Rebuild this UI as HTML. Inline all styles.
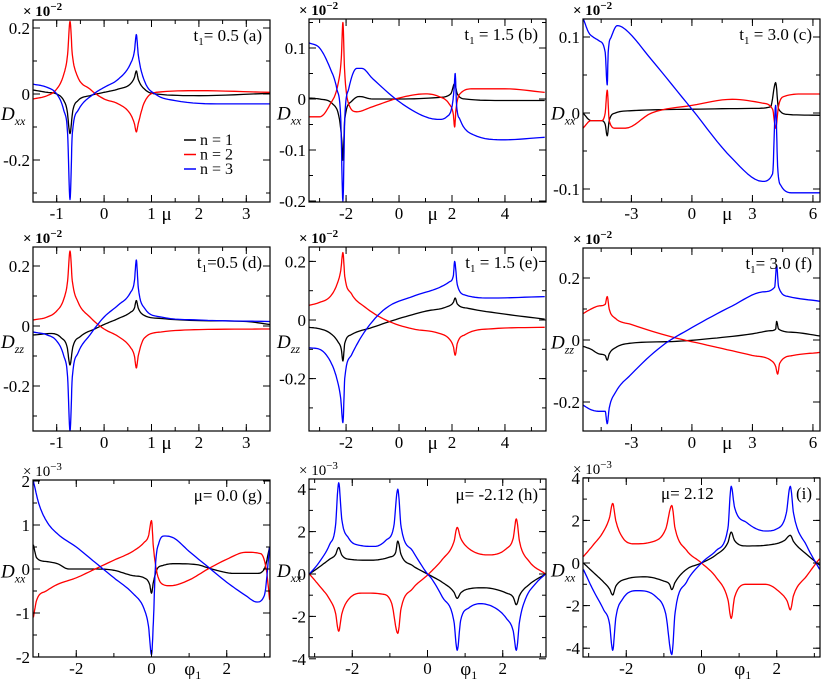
<!DOCTYPE html>
<html><head><meta charset="utf-8">
<style>
html,body{margin:0;padding:0;background:#fff;}
svg{display:block;font-family:"Liberation Serif","DejaVu Serif",serif;}
</style></head>
<body>
<svg id="fig" width="830" height="684" viewBox="0 0 830 684" xmlns="http://www.w3.org/2000/svg"></svg>
<script>
// ---- data (x, value) ----
const a_n1=[[-1.5,0.012],[-1.2,0.005],[-1,0],[-0.85,-0.02],[-0.78,-0.05],[-0.72,-0.12],[-0.66,-0.05],[-0.55,-0.02],[-0.3,-0.005],[0,0.005],[0.3,0.015],[0.55,0.03],[0.64,0.05],[0.68,0.07],[0.72,0.045],[0.85,0.015],[1.1,0],[2,-0.005],[3.5,0.002]];
const a_n2=[[-1.5,-0.015],[-1.2,-0.005],[-1,0.015],[-0.85,0.06],[-0.77,0.12],[-0.72,0.22],[-0.67,0.12],[-0.58,0.06],[-0.3,0.015],[0,-0.015],[0.3,-0.03],[0.55,-0.06],[0.64,-0.09],[0.68,-0.115],[0.72,-0.09],[0.85,-0.025],[1.1,0.005],[2,0.01],[3.5,0.005]];
const a_n3=[[-1.5,0.03],[-1.2,0.02],[-1,0],[-0.85,-0.05],[-0.77,-0.12],[-0.72,-0.32],[-0.67,-0.12],[-0.55,-0.05],[-0.2,0.002],[0,0.02],[0.3,0.045],[0.55,0.09],[0.64,0.13],[0.68,0.18],[0.72,0.12],[0.85,0.04],[1.1,-0.002],[1.5,-0.02],[2.5,-0.03],[3.5,-0.03]];
const b_n1=[[-3.4,0.002],[-3,0],[-2.5,-0.01],[-2.25,-0.04],[-2.15,-0.09],[-2.12,-0.12],[-2.05,-0.04],[-1.8,-0.005],[-1.5,0.005],[-1,0],[0,0],[1.5,0.003],[1.95,0.01],[2.1,0.03],[2.2,0.01],[2.5,0],[4,-0.003],[5.5,-0.003]];
const b_n2=[[-3.4,-0.035],[-3,-0.035],[-2.6,-0.01],[-2.3,0.03],[-2.18,0.08],[-2.12,0.15],[-2.06,0.06],[-1.9,-0.01],[-1.6,-0.025],[-1,-0.015],[0,0.002],[1,0.01],[1.5,0.005],[1.9,-0.01],[2.05,-0.03],[2.1,-0.055],[2.15,-0.02],[2.3,0.01],[2.8,0.02],[4,0.02],[5.5,0.013]];
const b_n3=[[-3.4,0.11],[-3,0.1],[-2.6,0.06],[-2.35,0.02],[-2.2,-0.04],[-2.12,-0.2],[-2.05,-0.04],[-1.9,0.02],[-1.6,0.06],[-1.4,0.06],[-1,0.04],[0,-0.005],[1,-0.035],[1.5,-0.04],[1.8,-0.035],[2.0,-0.015],[2.08,0.02],[2.12,0.05],[2.17,-0.01],[2.3,-0.04],[2.8,-0.07],[4,-0.08],[5.5,-0.075]];
const c_n1=[[-5.4,0],[-5,-0.01],[-4.5,-0.01],[-4.3,-0.015],[-4.2,-0.03],[-4.1,-0.01],[-3.8,0],[-3,0.003],[0,0.005],[3,0.006],[3.9,0.008],[4.15,0.04],[4.3,0.005],[4.8,-0.002],[6.35,-0.003]];
const c_n2=[[-5.4,-0.02],[-5,-0.01],[-4.8,-0.01],[-4.5,-0.01],[-4.3,0],[-4.2,0.03],[-4.1,-0.01],[-3.8,-0.02],[-3.3,-0.02],[-2,0],[0,0.01],[2,0.018],[3.5,0.013],[4,0.005],[4.15,-0.02],[4.3,0.01],[4.6,0.022],[5.5,0.025],[6.35,0.025]];
const c_n3=[[-5.4,0.125],[-5.1,0.105],[-4.9,0.1],[-4.6,0.095],[-4.3,0.08],[-4.2,0.037],[-4.15,0.08],[-4,0.1],[-3.7,0.115],[-3.3,0.11],[-2,0.07],[0,0.005],[2,-0.06],[3.5,-0.09],[4,-0.08],[4.15,0.01],[4.25,-0.07],[4.4,-0.095],[5,-0.105],[6.35,-0.105]];
const d_n1=[[-1.5,-0.03],[-1.1,-0.025],[-0.9,-0.04],[-0.78,-0.07],[-0.72,-0.13],[-0.66,-0.07],[-0.5,-0.035],[-0.2,-0.01],[0,0.005],[0.3,0.025],[0.55,0.045],[0.64,0.06],[0.68,0.085],[0.72,0.06],[0.85,0.035],[1.2,0.025],[2,0.018],[3,0.015],[3.5,0.005]];
const d_n2=[[-1.5,0.02],[-1.2,0.03],[-1,0.05],[-0.85,0.09],[-0.77,0.15],[-0.72,0.25],[-0.67,0.15],[-0.55,0.08],[-0.3,0.03],[0,-0.01],[0.3,-0.035],[0.55,-0.07],[0.64,-0.1],[0.68,-0.14],[0.72,-0.1],[0.85,-0.04],[1.2,-0.02],[2,-0.012],[3.5,-0.01]];
const d_n3=[[-1.5,-0.02],[-1.2,-0.03],[-1,-0.05],[-0.85,-0.1],[-0.77,-0.17],[-0.72,-0.35],[-0.67,-0.17],[-0.55,-0.09],[-0.3,-0.03],[0,0.03],[0.3,0.07],[0.55,0.11],[0.64,0.15],[0.68,0.22],[0.72,0.13],[0.85,0.06],[1.2,0.03],[2,0.02],[3.5,0.015]];
const e_n1=[[-3.4,-0.025],[-3,-0.03],[-2.6,-0.045],[-2.3,-0.075],[-2.18,-0.1],[-2.12,-0.14],[-2.05,-0.08],[-1.8,-0.05],[-1,-0.025],[0,0.005],[1,0.03],[1.8,0.045],[2.05,0.06],[2.12,0.075],[2.2,0.055],[2.6,0.04],[4,0.02],[5.5,0.003]];
const e_n2=[[-3.4,0.05],[-3,0.06],[-2.6,0.08],[-2.35,0.12],[-2.2,0.17],[-2.12,0.23],[-2.05,0.15],[-1.8,0.09],[-1.3,0.045],[-0.5,0],[0.5,-0.03],[1.5,-0.045],[1.9,-0.065],[2.05,-0.09],[2.12,-0.12],[2.2,-0.08],[2.5,-0.05],[3.5,-0.03],[5.5,-0.025]];
const e_n3=[[-3.4,-0.095],[-3,-0.1],[-2.6,-0.14],[-2.35,-0.2],[-2.2,-0.27],[-2.12,-0.35],[-2.05,-0.2],[-1.8,-0.12],[-1.3,-0.04],[-0.5,0.04],[0.5,0.08],[1.5,0.11],[1.9,0.13],[2.05,0.15],[2.1,0.2],[2.2,0.12],[2.5,0.085],[3.5,0.075],[5.5,0.08]];
const f_n1=[[-5.4,-0.02],[-5,-0.03],[-4.6,-0.045],[-4.3,-0.05],[-4.2,-0.065],[-4.1,-0.045],[-3.8,-0.025],[-3,-0.01],[-1,-0.005],[1,0.005],[3,0.02],[3.9,0.03],[4.15,0.035],[4.2,0.06],[4.3,0.035],[5,0.025],[6.35,0.013]];
const f_n2=[[-5.4,0.085],[-5,0.1],[-4.6,0.11],[-4.3,0.115],[-4.2,0.14],[-4.1,0.1],[-3.8,0.07],[-3,0.05],[-1,0.01],[1,-0.02],[3,-0.05],[3.9,-0.065],[4.15,-0.085],[4.25,-0.11],[4.35,-0.075],[5,-0.05],[6.35,-0.04]];
const f_n3=[[-5.4,-0.21],[-5,-0.225],[-4.6,-0.23],[-4.3,-0.23],[-4.2,-0.27],[-4.1,-0.22],[-3.8,-0.17],[-3,-0.11],[-1.5,-0.02],[0,0.04],[2,0.11],[3.5,0.155],[4.1,0.17],[4.2,0.24],[4.3,0.17],[4.8,0.14],[6.35,0.125]];
const g_n1=[[-3.14,0.55],[-3.05,0.25],[-2.8,0.17],[-2.5,0.12],[-2.2,0],[-1.5,0],[-1,-0.03],[-0.5,-0.15],[-0.2,-0.2],[-0.05,-0.35],[0,-0.55],[0.05,-0.3],[0.15,0],[0.3,0.08],[0.6,0.12],[1.2,0.1],[1.6,0],[2.2,-0.1],[2.8,-0.1],[3,0],[3.14,0.5]];
const g_n2=[[-3.14,-1.1],[-3.05,-0.7],[-2.8,-0.5],[-2.5,-0.35],[-2,-0.2],[-1.5,0],[-1,0.2],[-0.5,0.4],[-0.2,0.6],[-0.08,0.75],[0,1.1],[0.05,0.5],[0.15,-0.1],[0.3,-0.35],[0.5,-0.38],[1,-0.25],[1.5,0],[2,0.22],[2.5,0.38],[2.9,0.35],[3.05,0],[3.14,-0.7]];
const g_n3=[[-3.14,2],[-3,1.5],[-2.8,1.1],[-2.5,0.8],[-2,0.5],[-1.5,0.15],[-1,-0.2],[-0.5,-0.55],[-0.2,-0.9],[-0.08,-1.3],[0,-1.95],[0.05,-1.2],[0.1,0],[0.2,0.6],[0.35,0.75],[0.6,0.7],[1,0.4],[1.5,0.05],[2,-0.3],[2.5,-0.6],[2.8,-0.75],[3,-0.6],[3.14,0.5]];
const h_n1=[[-3.14,0],[-2.9,0.3],[-2.6,0.7],[-2.45,0.9],[-2.36,1.25],[-2.28,0.9],[-2.1,0.7],[-1.5,0.65],[-1,0.8],[-0.85,1],[-0.79,1.55],[-0.7,0.9],[-0.4,0.4],[0,0],[0.4,-0.4],[0.7,-0.85],[0.79,-1.15],[0.88,-0.9],[1.1,-0.7],[1.5,-0.65],[2.1,-0.9],[2.28,-1.1],[2.36,-1.45],[2.45,-1],[2.7,-0.5],[3.14,0]];
const h_n2=[[-3.14,0],[-2.9,-0.5],[-2.6,-1.2],[-2.45,-1.8],[-2.36,-2.7],[-2.28,-1.9],[-2.1,-1.2],[-1.7,-0.9],[-1.2,-0.95],[-0.95,-1.4],[-0.79,-2.8],[-0.7,-1.6],[-0.4,-0.7],[0,-0.05],[0.4,0.7],[0.7,1.5],[0.79,2.2],[0.88,1.7],[1.1,1.2],[1.6,0.9],[2.1,1.2],[2.28,1.7],[2.36,2.6],[2.45,1.5],[2.7,0.6],[3.14,0]];
const h_n3=[[-3.14,0],[-2.9,0.5],[-2.6,1.4],[-2.45,2.2],[-2.36,4.3],[-2.28,2.6],[-2.1,1.7],[-1.8,1.35],[-1.4,1.3],[-1.1,1.6],[-0.9,2.2],[-0.79,4],[-0.7,2.2],[-0.4,1.1],[0,0],[0.1,-0.2],[0.4,-1.1],[0.7,-2.2],[0.79,-3.6],[0.88,-2.2],[1.1,-1.6],[1.4,-1.4],[1.8,-1.6],[2.1,-2.1],[2.28,-2.7],[2.36,-3.6],[2.45,-2.2],[2.6,-1.2],[2.9,-0.4],[3.14,0]];
const i_n1=[[-3.14,0],[-2.9,-0.4],[-2.6,-0.9],[-2.45,-1.2],[-2.36,-1.5],[-2.28,-1.1],[-2,-0.75],[-1.5,-0.65],[-1,-0.85],[-0.85,-1],[-0.79,-1.25],[-0.7,-0.9],[-0.4,-0.3],[0,0],[0.4,0.4],[0.7,0.95],[0.79,1.45],[0.88,1.05],[1.2,0.8],[1.8,0.85],[2.2,1.05],[2.36,1.3],[2.45,1],[2.8,0.4],[3.14,-0.1]];
const i_n2=[[-3.14,0.3],[-2.9,0.8],[-2.6,1.5],[-2.45,2.1],[-2.36,2.8],[-2.28,2],[-2.1,1.2],[-1.8,0.9],[-1.3,1],[-0.95,1.6],[-0.79,2.7],[-0.7,1.6],[-0.4,0.6],[0,0],[0.4,-0.7],[0.7,-1.7],[0.79,-2.6],[0.88,-1.6],[1.2,-1],[1.7,-1],[2.1,-1.4],[2.28,-1.8],[2.36,-2.2],[2.45,-1.5],[2.8,-0.6],[3.05,0],[3.14,0.2]];
const i_n3=[[-3.14,-0.3],[-2.9,-1.2],[-2.6,-2.2],[-2.45,-2.8],[-2.36,-4.1],[-2.28,-2.6],[-2.1,-1.7],[-1.7,-1.3],[-1.2,-1.6],[-0.95,-2.4],[-0.79,-4.3],[-0.7,-2.3],[-0.4,-0.9],[0,0],[0.4,0.6],[0.7,1.6],[0.79,3.6],[0.88,2.6],[1.2,1.9],[1.7,1.5],[2,1.6],[2.25,2.3],[2.36,3.6],[2.45,2.3],[2.8,0.8],[3.14,-0.3]];

const aYTicks=[0.2,0,-0.2], aXTicks=[-1,0,1,2,3];
const bYTicks=[0.1,0,-0.1,-0.2], bXTicks=[-2,0,2,4];
const cYTicks=[0.1,0,-0.1], cXTicks=[-3,0,3,6];
const dYTicks=[0.2,0,-0.2], eYTicks=[0.2,0,-0.2], fYTicks=[0.2,0,-0.2];
const gYTicks=[2,1,0,-1,-2], gXTicks=[-2,0,2];
const hYTicks=[4,2,0,-2,-4], iYTicks=[4,2,0,-2,-4];

// ---- layout (pixel geometry, not data) ----
const panels=[
 {id:'a',L:33,R:270,T:20,B:202,x0:-1.5,x1:3.5,yz:94,ys:330,yt:aYTicks,xt:aXTicks,minx:0.5,miny:0.1,exp:'−2',lab:'t',val:'= 0.5',tag:'(a)',yl:'xx',xl:'μ',xlx:1,data:[a_n1,a_n2,a_n3]},
 {id:'b',L:309,R:546,T:19,B:202,x0:-3.4,x1:5.55,yz:99,ys:510,yt:bYTicks,xt:bXTicks,minx:1,miny:0.05,exp:'−2',lab:'t',val:' = 1.5',tag:'(b)',yl:'xx',xl:'μ',xlx:0.7,data:[b_n1,b_n2,b_n3]},
 {id:'c',L:583,R:820,T:19,B:202,x0:-5.4,x1:6.35,yz:113,ys:760,yt:cYTicks,xt:cXTicks,minx:1.5,miny:0.05,exp:'−2',lab:'t',val:' = 3.0',tag:'(c)',yl:'xx',xl:'μ',xlx:1,data:[c_n1,c_n2,c_n3]},
 {id:'d',L:33,R:270,T:247,B:431,x0:-1.5,x1:3.5,yz:326,ys:300,yt:dYTicks,xt:aXTicks,minx:0.5,miny:0.1,exp:'−2',lab:'t',val:'=0.5',tag:'(d)',yl:'zz',xl:'μ',xlx:1,data:[d_n1,d_n2,d_n3]},
 {id:'e',L:309,R:546,T:247,B:431,x0:-3.4,x1:5.55,yz:320,ys:293,yt:eYTicks,xt:bXTicks,minx:1,miny:0.1,exp:'−2',lab:'t',val:' = 1.5',tag:'(e)',yl:'zz',xl:'μ',xlx:0.7,data:[e_n1,e_n2,e_n3]},
 {id:'f',L:583,R:820,T:248,B:431,x0:-5.4,x1:6.35,yz:340,ys:310,yt:fYTicks,xt:cXTicks,minx:1.5,miny:0.1,exp:'−2',lab:'t',val:'= 3.0',tag:'(f)',yl:'zz',xl:'μ',xlx:1,data:[f_n1,f_n2,f_n3]},
 {id:'g',L:33,R:270,T:480,B:657,x0:-3.15,x1:3.15,yz:569,ys:44,yt:gYTicks,xt:gXTicks,minx:1,miny:0.5,exp:'−3',lab:'μ',val:'= 0.0',tag:'(g)',yl:'xx',xl:'φ',xlx:0.5,data:[g_n1,g_n2,g_n3]},
 {id:'h',L:309,R:546,T:479,B:657,x0:-3.15,x1:3.15,yz:574,ys:21.2,yt:hYTicks,xt:gXTicks,minx:1,miny:1,exp:'−3',lab:'μ',val:'= -2.12',tag:'(h)',yl:'xx',xl:'φ',xlx:0.5,data:[h_n1,h_n2,h_n3]},
 {id:'i',L:583,R:820,T:478,B:657,x0:-3.15,x1:3.15,yz:563,ys:21.3,yt:iYTicks,xt:gXTicks,minx:1,miny:1,exp:'−3',lab:'μ',val:'= 2.12',tag:'(i)',yl:'xx',xl:'φ',xlx:0.5,split:true,data:[i_n1,i_n2,i_n3]}
];
const colors=['#000000','#ff0000','#0000ff'];
const NS='http://www.w3.org/2000/svg';
const svg=document.getElementById('fig');
function mk(t,at,parent){const e=document.createElementNS(NS,t);for(const k in at)e.setAttribute(k,at[k]);(parent||svg).appendChild(e);return e;}

function smooth(pts){
  const n=pts.length; if(n<3) return pts;
  const xs=pts.map(p=>p[0]), ys=pts.map(p=>p[1]);
  const d=[],m=new Array(n);
  for(let i=0;i<n-1;i++) d.push((ys[i+1]-ys[i])/(xs[i+1]-xs[i]));
  m[0]=d[0]; m[n-1]=d[n-2];
  for(let i=1;i<n-1;i++){ m[i]=(d[i-1]*d[i]<=0)?0:(d[i-1]+d[i])/2; }
  for(let i=0;i<n-1;i++){
    if(d[i]===0){m[i]=0;m[i+1]=0;continue;}
    const a=m[i]/d[i],b=m[i+1]/d[i],s=a*a+b*b;
    if(s>9){const t=3/Math.sqrt(s);m[i]=t*a*d[i];m[i+1]=t*b*d[i];}
  }
  const out=[];
  for(let i=0;i<n-1;i++){
    const h=xs[i+1]-xs[i], N=8;
    for(let k=0;k<N;k++){
      const t=k/N,t2=t*t,t3=t2*t;
      const y=(2*t3-3*t2+1)*ys[i]+(t3-2*t2+t)*h*m[i]+(-2*t3+3*t2)*ys[i+1]+(t3-t2)*h*m[i+1];
      out.push([xs[i]+t*h,y]);
    }
  }
  out.push(pts[n-1]);
  return out;
}

panels.forEach(p=>{
  const g=mk('g',{});
  
  
  const sx=v=>p.L+(v-p.x0)/(p.x1-p.x0)*(p.R-p.L);
  const sy=v=>p.yz-v*p.ys;
  const cid='clip-'+p.id;
  const cp=mk('clipPath',{id:cid},g);
  mk('rect',{x:p.L,y:p.T,width:p.R-p.L,height:p.B-p.T},cp);
  p.data.forEach((s,k)=>{
    const pl=mk('polyline',{points:smooth(s).map(d=>sx(d[0]).toFixed(1)+','+sy(d[1]).toFixed(1)).join(' '),fill:'none',stroke:colors[k],'stroke-width':1.3,'stroke-linejoin':'round','clip-path':'url(#'+cid+')'},g);
    
    
  });
  const fr=mk('rect',{x:p.L,y:p.T,width:p.R-p.L,height:p.B-p.T,fill:'none',stroke:'#000','stroke-width':1.2},g);
  
  
  for(let v=Math.ceil(p.x0/p.minx)*p.minx;v<=p.x1;v+=p.minx){const x=sx(v);mk('line',{x1:x,x2:x,y1:p.B,y2:p.B-4,stroke:'#000'},g);mk('line',{x1:x,x2:x,y1:p.T,y2:p.T+4,stroke:'#000'},g);}
  const ylo=(p.yz-p.B)/p.ys, yhi=(p.yz-p.T)/p.ys;
  for(let v=Math.ceil(ylo/p.miny)*p.miny;v<=yhi;v+=p.miny){const y=sy(v);mk('line',{x1:p.L,x2:p.L+4,y1:y,y2:y,stroke:'#000'},g);mk('line',{x1:p.R,x2:p.R-4,y1:y,y2:y,stroke:'#000'},g);}
  const yax=mk('g',{},g);
  
  
  p.yt.forEach(v=>{const y=sy(v);mk('line',{x1:p.L,x2:p.L+7,y1:y,y2:y,stroke:'#000'},yax);mk('line',{x1:p.R,x2:p.R-7,y1:y,y2:y,stroke:'#000'},yax);
    const t=mk('text',{x:p.L-3,y:y+6,'text-anchor':'end','font-size':17},yax);t.textContent=String(v);
    
    });
  const xax=mk('g',{},g);
  
  
  p.xt.forEach(v=>{const x=sx(v);mk('line',{x1:x,x2:x,y1:p.B,y2:p.B-7,stroke:'#000'},xax);mk('line',{x1:x,x2:x,y1:p.T,y2:p.T+7,stroke:'#000'},xax);
    const t=mk('text',{x:x,y:p.B+17,'text-anchor':'middle','font-size':17},xax);t.textContent=String(v);
    
    });
  const xt=mk('text',{x:sx(p.xlx)+(p.xl==='φ'?14:10),y:p.B+18,'font-size':19},g);
  
  
  xt.innerHTML=p.xl==='φ'?'φ<tspan font-size="12" dy="4">1</tspan>':'μ';
  const yt=mk('text',{x:p.L-32,y:p.T+(p.B-p.T)*0.55,'font-size':19,'font-style':'italic'},g);
  
  
  yt.innerHTML='D<tspan font-size="12" dy="5">'+p.yl+'</tspan>';
  const ex=mk('text',{x:p.L-10,y:p.T-4,'font-size':15,'font-weight':p.exp==='−2'?'bold':'normal'},g);
  
  
  ex.innerHTML='× 10<tspan font-size="11" dy="-6">'+p.exp+'</tspan>';
  if(p.split){
    const an=mk('text',{x:p.L+78,y:p.T+21,'font-size':17},g);
    
    
    an.textContent='μ'+p.val;
    const tg=mk('text',{x:p.R-8,y:p.T+21,'text-anchor':'end','font-size':17},g);
    
    
    tg.textContent=p.tag;
  } else {
    const an=mk('text',{x:p.R-8,y:p.T+21,'text-anchor':'end','font-size':17},g);
    
    
    an.innerHTML=(p.lab==='t'?'t<tspan font-size="11" dy="4">1</tspan><tspan dy="-4">':'μ<tspan>')+p.val+'</tspan>  '+p.tag;
    an.setAttribute('xml:space','preserve');
  }
});

const lg=mk('g',{});


['n = 1','n = 2','n = 3'].forEach((s,k)=>{
  const y=140+k*14.5;
  mk('line',{x1:184,x2:196,y1:y,y2:y,stroke:colors[k],'stroke-width':1.5},lg);
  const t=mk('text',{x:200,y:y+5,'font-size':16},lg);t.textContent=s;
  
  
});
</script>
</body></html>
